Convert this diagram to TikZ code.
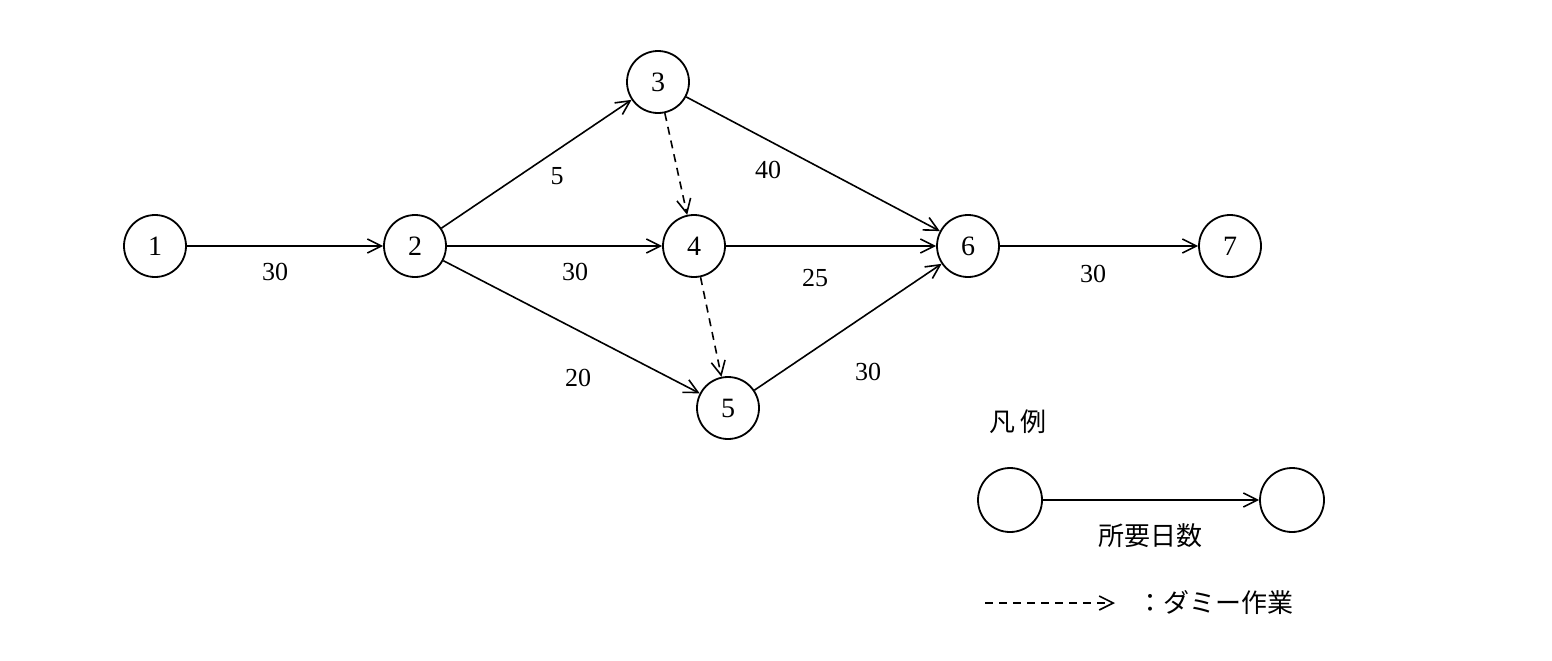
\documentclass[tikz,border=0pt]{standalone}
\usepackage{fontspec}
\setmainfont{Liberation Serif}
\newfontfamily\cjk{Noto Sans CJK JP}
\usetikzlibrary{arrows.meta}
\begin{document}
\begin{tikzpicture}[x=0.5pt,y=-0.5pt,
  ev/.style={circle,draw,line width=0.9pt,minimum size=31pt,inner sep=0pt,font=\fontsize{14}{14}\selectfont},
  act/.style={line width=0.8pt,-{Straight Barb[length=7pt,width=7pt]}},
  dum/.style={act,dashed,dash pattern=on 4pt off 3pt},
  lab/.style={font=\fontsize{13}{13}\selectfont}]
\useasboundingbox (0,0) rectangle (1552,660);
\node[ev] (n1) at (155,246) {1};
\node[ev] (n2) at (415,246) {2};
\node[ev] (n3) at (658,82) {3};
\node[ev] (n4) at (694,246) {4};
\node[ev] (n5) at (728,408) {5};
\node[ev] (n6) at (968,246) {6};
\node[ev] (n7) at (1230,246) {7};
\draw[act] (n1) -- (n2);
\draw[act] (n2) -- (n3);
\draw[act] (n2) -- (n4);
\draw[act] (n2) -- (n5);
\draw[act] (n3) -- (n6);
\draw[act] (n4) -- (n6);
\draw[act] (n5) -- (n6);
\draw[act] (n6) -- (n7);
\draw[dum] (n3) -- (n4);
\draw[dum] (n4) -- (n5);
\node[lab] (l12) at (275,272) {30};
\node[lab] (l23) at (557,176) {5};
\node[lab] (l24) at (575,272) {30};
\node[lab] (l25) at (578,378) {20};
\node[lab] (l36) at (768,170) {40};
\node[lab] (l46) at (815,278) {25};
\node[lab] (l56) at (868,372) {30};
\node[lab] (l67) at (1093,274) {30};
\node[font=\cjk\fontsize{13}{13}\selectfont] (leg) at (1018,422) {凡 例};
\node[ev,minimum size=32pt] (la) at (1010,500) {};
\node[ev,minimum size=32pt] (lb) at (1292,500) {};
\draw[act] (la) -- (lb);
\node[font=\cjk\fontsize{13}{13}\selectfont] (lt) at (1150,536) {所要日数};
\coordinate (da) at (985,603);
\coordinate (db) at (1115,603);
\draw[dum] (da) -- (db);
\node[font=\cjk\fontsize{13}{13}\selectfont,anchor=west] (dt) at (1130,603) {：ダミー作業};
\end{tikzpicture}
\end{document}
